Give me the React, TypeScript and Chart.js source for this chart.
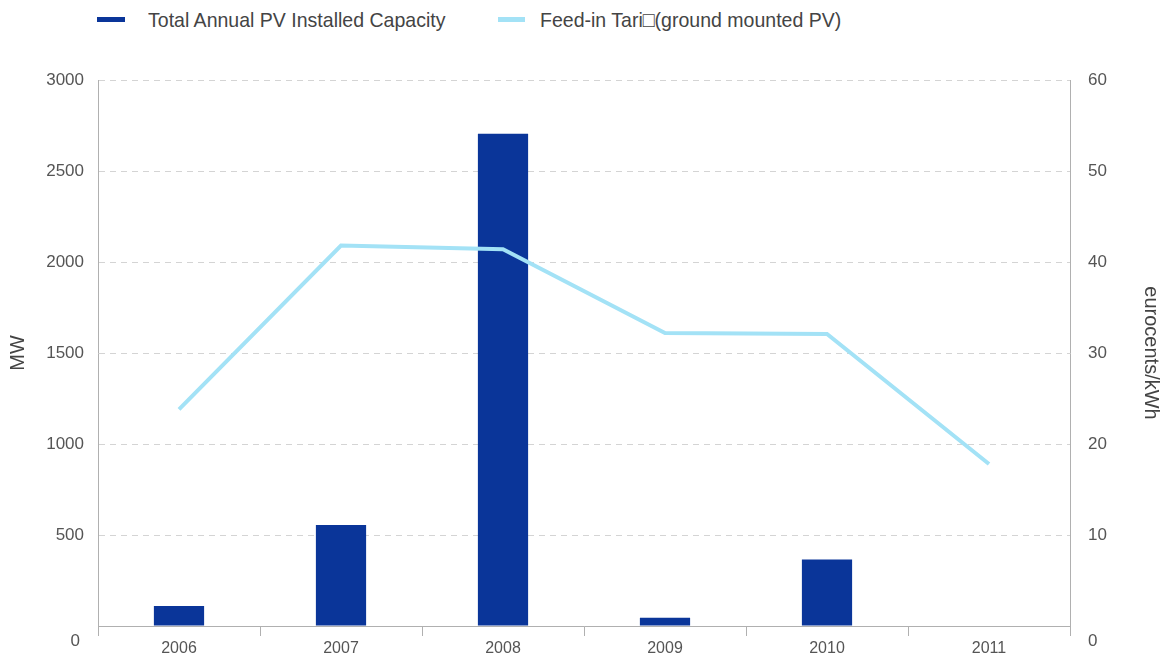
import React, { useEffect, useRef } from "react";
import { Chart, registerables } from "chart.js";

Chart.register(...registerables);

const years = ["2006", "2007", "2008", "2009", "2010", "2011"];
const capacityMW = [110, 555, 2705, 45, 365, 0];
const tariff = [23.8, 41.8, 41.4, 32.2, 32.1, 17.8];
const leftTicks = [0, 500, 1000, 1500, 2000, 2500, 3000];
const rightTicks = [0, 10, 20, 30, 40, 50, 60];

const barLabel = "Total Annual PV Installed Capacity";
const lineLabel = "Feed-in Tari\u25A1(ground mounted PV)";

const BAR_COLOR = "#0a3599";
const LINE_COLOR = "#a3e2f6";
const AXIS_COLOR = "#b0b0b0";
const TEXT_COLOR = "#555555";
const FONT = "'Liberation Sans', Arial, sans-serif";

const zeroLabelPlugin = {
  id: "zeroLabel",
  afterDraw(chart: any) {
    const ctx = chart.ctx;
    const y = chart.scales.y;
    const y1 = chart.scales.y1;
    ctx.save();
    ctx.font = `17px ${FONT}`;
    ctx.fillStyle = TEXT_COLOR;
    ctx.textBaseline = "middle";
    const py = y.getPixelForValue(0) + 15;
    ctx.textAlign = "right";
    ctx.fillText("0", y.right - 18, py);
    ctx.textAlign = "left";
    ctx.fillText("0", y1.left + 18, py);
    ctx.restore();
  },
};

export default function App() {
  const ref = useRef<HTMLCanvasElement | null>(null);

  useEffect(() => {
    if (!ref.current) return;
    const chart = new Chart(ref.current, {
      type: "bar",
      data: {
        labels: years,
        datasets: [
          {
            type: "line",
            label: lineLabel,
            data: tariff,
            yAxisID: "y1",
            borderColor: LINE_COLOR,
            backgroundColor: LINE_COLOR,
            borderWidth: 4,
            pointRadius: 0,
            tension: 0,
            order: 0,
          } as any,
          {
            type: "bar",
            label: barLabel,
            data: capacityMW,
            yAxisID: "y",
            backgroundColor: BAR_COLOR,
            borderWidth: 0,
            barPercentage: 0.31,
            categoryPercentage: 1,
            order: 1,
          },
        ],
      },
      options: {
        animation: false,
        responsive: true,
        maintainAspectRatio: false,
        layout: { padding: { top: 80, left: 0, right: 0, bottom: 0 } },
        plugins: {
          legend: { display: false },
          tooltip: { enabled: false },
        },
        scales: {
          x: {
            offset: true,
            grid: {
              offset: true,
              drawOnChartArea: false,
              drawTicks: true,
              tickLength: 10,
              color: AXIS_COLOR,
            },
            border: { color: AXIS_COLOR, width: 1 },
            ticks: {
              color: TEXT_COLOR,
              font: { family: FONT, size: 16 },
              padding: 3,
              maxRotation: 0,
            },
            afterFit: (s: any) => {
              s.height = 31;
            },
          },
          y: {
            position: "left",
            min: 0,
            max: 3000,
            afterBuildTicks: (s: any) => {
              s.ticks = leftTicks.map((v) => ({ value: v }));
            },
            ticks: {
              color: TEXT_COLOR,
              font: { family: FONT, size: 17 },
              padding: 14,
              callback: (v: any) => (v === 0 ? "" : String(v)),
            },
            grid: {
              color: "#d4d4d4",
              drawTicks: false,
              lineWidth: 1,
            },
            border: { color: AXIS_COLOR, width: 1, dash: [6, 5] },
            title: {
              display: true,
              text: "MW",
              color: "#444",
              font: { family: FONT, size: 20 },
              padding: { top: 6, bottom: 0 },
            },
            afterFit: (s: any) => {
              s.width = 98;
            },
          },
          y1: {
            position: "right",
            min: 0,
            max: 60,
            afterBuildTicks: (s: any) => {
              s.ticks = rightTicks.map((v) => ({ value: v }));
            },
            ticks: {
              color: TEXT_COLOR,
              font: { family: FONT, size: 17 },
              padding: 18,
              callback: (v: any) => (v === 0 ? "" : String(v)),
            },
            grid: { drawOnChartArea: false, drawTicks: false },
            border: { color: AXIS_COLOR, width: 1 },
            title: {
              display: true,
              text: "eurocents/kWh",
              color: "#444",
              font: { family: FONT, size: 20 },
              padding: { top: 0, bottom: 0 },
            },
            afterFit: (s: any) => {
              s.width = 93;
            },
          },
        },
      },
      plugins: [zeroLabelPlugin],
    });
    return () => chart.destroy();
  }, []);

  const legendText: React.CSSProperties = {
    position: "absolute",
    top: 8,
    fontFamily: FONT,
    fontSize: 21,
    color: "#444",
    whiteSpace: "nowrap",
    lineHeight: "24px",
    transform: "scaleX(0.93)",
    transformOrigin: "left center",
  };

  return (
    <div style={{ position: "absolute", left: 0, top: 0, width: 1163, height: 657, background: "#fff" }}>
      <div style={{ position: "absolute", left: 97, top: 17, width: 28, height: 5, background: BAR_COLOR }} />
      <div style={{ ...legendText, left: 148 }}>{barLabel}</div>
      <div style={{ position: "absolute", left: 498, top: 17, width: 27, height: 5, background: LINE_COLOR }} />
      <div style={{ ...legendText, left: 540 }}>{lineLabel}</div>
      <div style={{ position: "absolute", left: 0, top: 0, width: 1163, height: 657 }}>
        <canvas ref={ref} />
      </div>
    </div>
  );
}
